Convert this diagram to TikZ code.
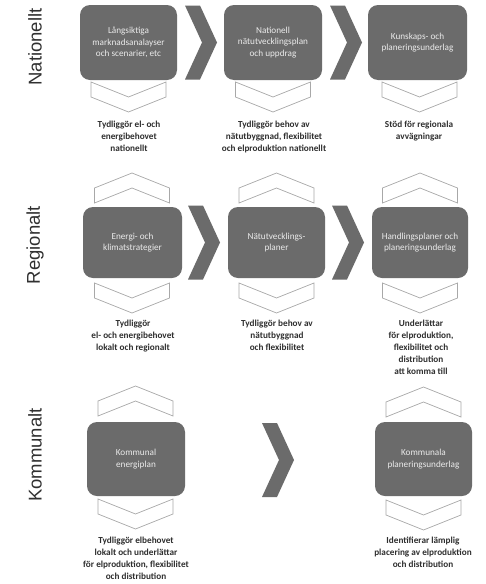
\documentclass[tikz,border=0pt]{standalone}
\usepackage{fontspec}
\setmainfont{Carlito}
\newfontfamily\labelfont{Liberation Sans}
\definecolor{boxgray}{HTML}{6B6B6B}
\definecolor{outgray}{HTML}{A8A8A8}
\definecolor{txtgray}{HTML}{2E2E2E}
\definecolor{lblgray}{HTML}{303030}
\begin{document}
\begin{tikzpicture}[x=1pt,y=-1pt,
  pbox/.style={fill=boxgray, rounded corners=10pt, minimum height=75pt, inner sep=2pt,
     text=white!92!black, align=center, font=\fontsize{9.2}{11.2}\selectfont},
  note/.style={anchor=north, align=center, inner sep=0pt, text=txtgray,
     font=\bfseries\fontsize{9.2}{11.9}\selectfont},
  rowlabel/.style={rotate=90, text=lblgray, font=\labelfont\fontsize{18.5}{20}\selectfont},
  outl/.style={draw=outgray, line width=0.7pt, line join=miter, fill=white},
  rchev/.pic={\fill[boxgray] (0,-37) -- (15,-37) -- (32,0) -- (15,37) -- (0,37) -- (17,0) -- cycle;},
  dchev/.pic={\path[outl] (-37.5,0) -- (0,15) -- (37.5,0) -- (37.5,15) -- (0,30) -- (-37.5,15) -- cycle;},
  uchev/.pic={\path[outl] (-37.5,0) -- (0,-15) -- (37.5,0) -- (37.5,-15) -- (0,-30) -- (-37.5,-15) -- cycle;}
]
\useasboundingbox[fill=white] (0,0) rectangle (485,584);

% row labels
\node[rowlabel] (lnat) at (35,47) {Nationellt};
\node[rowlabel] (lreg) at (35,245) {Regionalt};
\node[rowlabel] (lkom) at (35,455) {Kommunalt};

% ---- Row 1 ----
\node[pbox, minimum width=97pt] (b11) at (128.5,42.5) {Långsiktiga\\marknadsanalayser\\och scenarier, etc};
\node[pbox, minimum width=98pt] (b12) at (273,42.5) {Nationell\\nätutvecklingsplan\\och uppdrag};
\node[pbox, minimum width=99pt] (b13) at (417.5,42.5) {Kunskaps- och\\planeringsunderlag};
\pic at (185,42.5) {rchev};
\pic at (330,42.5) {rchev};
\pic at (128.5,82) {dchev};
\pic at (273,82) {dchev};
\pic at (419.5,82) {dchev};
\node[note] (t11) at (129,121) {Tydliggör el- och\\energibehovet\\nationellt};
\node[note] (t12) at (274,121) {Tydliggör behov av\\nätutbyggnad, flexibilitet\\och elproduktion nationellt};
\node[note] (t13) at (419,121) {Stöd för regionala\\avvägningar};

% ---- Row 2 ----
\node[pbox, minimum width=99pt, minimum height=71pt] (b21) at (132.5,242.5) {Energi- och\\klimatstrategier};
\node[pbox, minimum width=97pt, minimum height=71pt] (b22) at (276.5,242.5) {Nätutvecklings-\\planer};
\node[pbox, minimum width=96pt, minimum height=71pt] (b23) at (420,242.5) {Handlingsplaner och\\planeringsunderlag};
\pic at (188,242.5) {rchev};
\pic at (332,242.5) {rchev};
\pic at (132,203) {uchev};
\pic at (276.5,203) {uchev};
\pic at (420,203) {uchev};
\pic at (132,283) {dchev};
\pic at (276.5,283) {dchev};
\pic at (420,283) {dchev};
\node[note] (t21) at (133,320) {Tydliggör\\el- och energibehovet\\lokalt och regionalt};
\node[note] (t22) at (277,320) {Tydliggör behov av\\nätutbyggnad\\och flexibilitet};
\node[note] (t23) at (421,320) {Underlättar\\för elproduktion,\\flexibilitet och\\distribution\\att komma till};

% ---- Row 3 ----
\node[pbox, minimum width=98pt, minimum height=74pt] (b31) at (136,459) {Kommunal\\energiplan};
\node[pbox, minimum width=97pt, minimum height=74pt] (b33) at (423.5,459) {Kommunala\\planeringsunderlag};
\pic at (262,460) {rchev};
\pic at (135.5,416) {uchev};
\pic at (423.5,417) {uchev};
\pic at (135.5,499) {dchev};
\pic at (423.5,500) {dchev};
\node[note] (t31) at (136,537) {Tydliggör elbehovet\\lokalt och underlättar\\för elproduktion, flexibilitet\\och distribution};
\node[note] (t33) at (423,537) {Identifierar lämplig\\placering av elproduktion\\och distribution};
\end{tikzpicture}
\end{document}
